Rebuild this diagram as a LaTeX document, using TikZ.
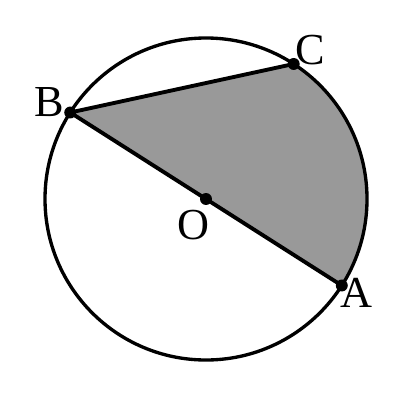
\documentclass[tikz,border=0pt]{standalone}
\usepackage{fontspec}
\setmainfont{Liberation Serif}
\usepackage{tikz}
\usetikzlibrary{calc}

\begin{document}
\begin{tikzpicture}[
  dot/.style={fill=black,circle,inner sep=0pt,minimum size=3.4pt},
  lbl/.style={font=\fontsize{12.6}{14}\selectfont,inner sep=0pt}
]
  \useasboundingbox (0,0) rectangle (4.14,4.04);
  \coordinate (O) at (2.06,2.05);
  \coordinate (A) at ($(O)+(-32.5:1.61)$);
  \coordinate (B) at ($(O)+(147.5:1.61)$);
  \coordinate (C) at ($(O)+(57:1.61)$);
  % shaded part
  \fill[black!40] (B) -- (C) arc (57:-32.5:1.61) -- cycle;
  \draw[line width=0.95pt] (O) circle (1.61);
  \draw[line width=1.1pt] (A) -- (B) -- (C);
  \node[dot] (dA) at (A) {};
  \node[dot] (dB) at (B) {};
  \node[dot] (dC) at (C) {};
  \node[dot] (dO) at (O) {};
  \node[lbl] (lA) at (3.56,1.11) {A};
  \node[lbl] (lB) at (0.49,3.02) {B};
  \node[lbl] (lC) at (3.10,3.54) {C};
  \node[lbl] (lO) at (1.93,1.79) {O};
\end{tikzpicture}
\end{document}
